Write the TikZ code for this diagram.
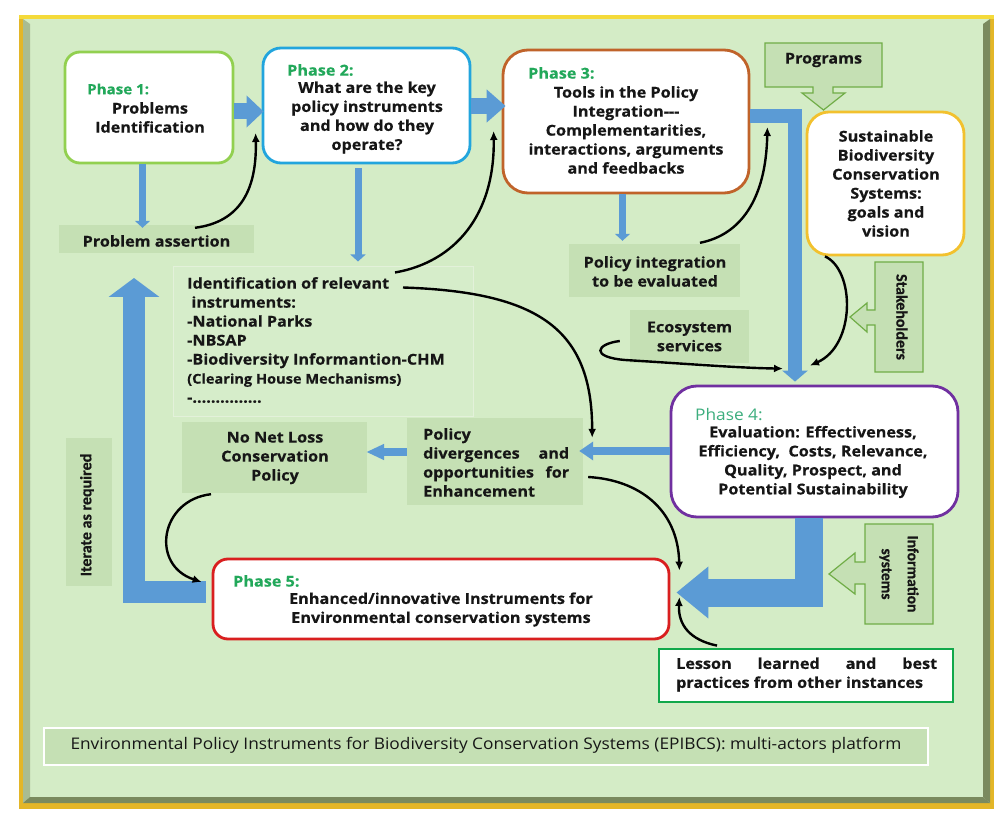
\documentclass[tikz,border=0pt]{standalone}
\usepackage{fontspec}
\setmainfont{Open Sans}[FakeStretch=1.08, BoldFeatures={FakeBold=0.4}]
\newfontfamily\carlfont{Carlito}[BoldFeatures={FakeBold=0.6}]
\usetikzlibrary{arrows.meta,calc}
\definecolor{bggreen}{HTML}{D4ECC6}
\definecolor{boxgreen}{HTML}{C5E0B4}
\definecolor{identfill}{HTML}{D6EDCA}
\definecolor{identedge}{HTML}{E3F1DA}
\definecolor{calgreen}{HTML}{70AD47}
\definecolor{arrowblue}{HTML}{5B9BD5}
\definecolor{labgreen}{HTML}{22A85A}
\definecolor{labgreenlt}{HTML}{3DAE7E}
\definecolor{ph1}{HTML}{92D050}
\definecolor{ph2}{HTML}{22A5DD}
\definecolor{ph3}{HTML}{C0632A}
\definecolor{ph4}{HTML}{7030A0}
\definecolor{ph5}{HTML}{D91F1F}
\definecolor{sbc}{HTML}{F2C12E}
\definecolor{lessongreen}{HTML}{12A84B}
\definecolor{framegold}{HTML}{E3B628}
\definecolor{frametop}{HTML}{F4DA3A}
\definecolor{bevelL}{HTML}{A9BC92}
\definecolor{bevelD}{HTML}{7A8A5E}
\definecolor{txtblack}{HTML}{161616}
\newcommand{\fntB}{\bfseries\fontsize{15}{19}\selectfont}
\newcommand{\fntL}{\bfseries\fontsize{15}{19}\selectfont}
\newcommand{\fntR}{\fontsize{16}{19}\selectfont}
\newcommand{\fntC}{\fontsize{16}{19}\selectfont}
\newcommand{\fntS}{\carlfont\bfseries\fontsize{16}{19}\selectfont}
\tikzset{
  phasebox/.style={draw, line width=2.8pt, fill=white, inner sep=0pt},
  greenbox/.style={fill=boxgreen, inner sep=0pt},
  identbox/.style={fill=identfill, draw=identedge, line width=1pt, inner sep=0pt},
  txt/.style={inner sep=0pt, font=\fntB, text=txtblack, align=center},
  rottxt/.style={inner sep=0pt, font=\fntS, text=txtblack, align=center},
  lab/.style={inner sep=0pt, anchor=west, font=\fntL, text=labgreen},
  callout/.style={fill=boxgreen, draw=calgreen, line width=1.2pt, line join=miter},
  thinblue/.style={draw=arrowblue, line width=7pt, -{Triangle[length=7pt,width=15pt]}},
  midblue/.style={draw=arrowblue, line width=8pt, -{Triangle[length=14pt,width=18pt]}},
  blockblue/.style={draw=arrowblue, line width=16pt, -{Triangle[length=17pt,width=31pt]}},
  curvearrow/.style={draw=black, line width=2.4pt, -{Latex[length=9pt,width=8pt]}}
}
\begin{document}
\begin{tikzpicture}[x=1pt,y=-1pt]
\useasboundingbox (0,0) rectangle (1005,821);
\fill[white] (0,0) rectangle (1005,821);
% frame
\fill[framegold] (19,15) rectangle (994,809);
\fill[frametop] (19,15) rectangle (994,19);
\fill[bggreen] (23,19) rectangle (990,803);
\fill[bevelL] (23,19) -- (30,24) -- (30,797) -- (23,803) -- cycle;
\fill[bevelD] (990,19) -- (983,24) -- (983,797) -- (990,803) -- cycle;
\fill[bevelD] (23,803) -- (30,797) -- (983,797) -- (990,803) -- cycle;

% boxes
\node[phasebox, draw=ph1, rounded corners=15pt, minimum width=168, minimum height=111] (p1) at (149,107.5) {};
\node[phasebox, draw=ph2, rounded corners=18pt, minimum width=207, minimum height=115] (p2) at (366.5,105.5) {};
\node[phasebox, draw=ph3, rounded corners=25pt, minimum width=246, minimum height=143] (p3) at (626,121.5) {};
\node[phasebox, draw=sbc, rounded corners=22pt, minimum width=157, minimum height=143] (sbc) at (885.5,183.5) {};
\node[phasebox, draw=ph4, rounded corners=26pt, minimum width=287, minimum height=131] (p4) at (814.5,451.5) {};
\node[phasebox, draw=ph5, rounded corners=15pt, minimum width=456, minimum height=80] (p5) at (441,599) {};
\node[phasebox, draw=lessongreen, minimum width=294, minimum height=53] (lesson) at (806,675.5) {};
\node[greenbox, minimum width=195, minimum height=28] (assert) at (156.5,239) {};
\node[identbox, minimum width=300, minimum height=149] (ident) at (323,341.5) {};
\node[greenbox, minimum width=185, minimum height=71] (nnl) at (274.5,457.5) {};
\node[greenbox, minimum width=176, minimum height=87] (div) at (495,461.5) {};
\node[greenbox, minimum width=171, minimum height=53] (polint) at (654.5,270.5) {};
\node[greenbox, minimum width=119, minimum height=53] (eco) at (689.5,336.5) {};
\node[greenbox, minimum width=46, minimum height=148] (iter) at (89,512) {};
\node[greenbox, draw=white, line width=1.5pt, minimum width=884, minimum height=37] (caption) at (486,746.5) {};

% callout shapes
\draw[callout] (765,43) -- (882,43) -- (882,87) -- (833,87) -- (833,93) -- (845,93) -- (823.5,110) -- (802,93) -- (813,93) -- (813,87) -- (765,87) -- cycle;
\draw[callout] (875,262) -- (923,262) -- (923,372) -- (875,372) -- (875,325) -- (867,325) -- (867,332) -- (850,317) -- (867,303) -- (867,310) -- (875,310) -- cycle;
\draw[callout] (865,524) -- (933,524) -- (933,624) -- (865,624) -- (865,584) -- (855,584) -- (855,594) -- (829,574) -- (855,553) -- (855,562) -- (865,562) -- cycle;

% texts
\node[lab, font=\bfseries\fontsize{14}{19}\selectfont] (l1) at (87,89) {Phase 1:};
\node[txt] (t1) at (150,117.5) {Problems\\Identification};
\node[lab] (l2) at (287,70) {Phase 2:};
\node[txt] (t2) at (367,117.5) {What are the key\\policy instruments\\and how do they\\operate?};
\node[lab] (l3) at (528,73) {Phase 3:};
\node[txt] (t3) at (626,130) {Tools in the Policy\\Integration-{}-{}-\\Complementarities,\\interactions, arguments\\and feedbacks};
\node[txt] (tsbc) at (886,183.5) {Sustainable\\Biodiversity\\Conservation\\Systems:\\goals and\\vision};
\node[txt] (tprog) at (823.5,60) {Programs};
\node[inner sep=0pt, anchor=west, font=\fntR, text=labgreenlt] (l4) at (695,415) {Phase 4:};
\node[txt] (t4) at (813,462) {Evaluation: Effectiveness,\\Efficiency,~ Costs, Relevance,\\Quality, Prospect, and\\Potential Sustainability};
\node[lab] (l5) at (233,581) {Phase 5:};
\node[txt] (t5) at (441,609.5) {Enhanced/innovative Instruments for\\Environmental conservation systems};
\node[txt, anchor=west, align=left] (tles) at (676,674.5) {\makebox[261pt][s]{Lesson learned and best}\\practices from other instances};
\node[txt] (tass) at (156.5,241) {Problem assertion};
\node[txt, anchor=west, align=left] (tident) at (187,340) {Identification of relevant\\ \ instruments:\\-National Parks\\-NBSAP\\-Biodiversity Informantion-CHM\\{\bfseries\fontsize{13.5}{19}\selectfont (Clearing House Mechanisms)}\\-...............};
\node[txt] (tnnl) at (275,458) {No Net Loss\\Conservation\\Policy};
\node[txt, anchor=west, align=left] (tdiv) at (423,462.5) {Policy\\\makebox[146pt][s]{divergences and}\\\makebox[146pt][s]{opportunities for}\\Enhancement};
\node[txt] (tpol) at (655,271.5) {Policy integration\\to be evaluated};
\node[txt] (teco) at (689.5,336.5) {Ecosystem\\services};
\node[rottxt, rotate=90] (titer) at (87,515) {Iterate as required};
\node[rottxt, rotate=-90] (tstake) at (902,317) {Stakeholders};
\node[rottxt, font=\carlfont\bfseries\fontsize{15.5}{26}\selectfont, rotate=-90] (tinfo) at (899,574) {Information\\systems};
\node[inner sep=0pt, font=\fntC, text=txtblack] (tcap) at (486,745) {Environmental Policy Instruments for Biodiversity Conservation Systems (EPIBCS): multi-actors platform};

% straight blue arrows
\draw[blockblue] ([yshift=-4pt]p1.east) -- ([xshift=2pt,yshift=-6pt]p2.west);
\draw[draw=arrowblue, line width=16pt, -{Triangle[length=19pt,width=32pt]}] ([yshift=-0.5pt]p2.east) -- ([xshift=4pt,yshift=15.5pt]p3.west);
\draw[thinblue] ([xshift=-6.5pt]p1.south) -- ([xshift=-14pt,yshift=-3pt]assert.north);
\draw[thinblue] ([xshift=-8.5pt,yshift=-4pt]p2.south) -- ([xshift=35pt,yshift=5pt]ident.north);
\draw[thinblue] ([xshift=-3.5pt]p3.south) -- ([xshift=-32pt,yshift=3pt]polint.north);
\draw[midblue] ([yshift=0.5pt]p4.west) -- ([xshift=-4pt,yshift=10.5pt]div.east);
\draw[draw=arrowblue, line width=8pt, -{Triangle[length=18pt,width=15pt]}] ([yshift=9.5pt]div.west) -- ([xshift=-1pt,yshift=5.5pt]nnl.east);

% big L arrows
\draw[draw=arrowblue, line width=14pt, line join=miter, -{Triangle[length=11pt,width=25pt]}] ([yshift=5.5pt]p3.east) -| ([xshift=-19.5pt,yshift=3pt]p4.north);
\draw[draw=arrowblue, line width=28pt, line join=miter, -{Triangle[length=32pt,width=50pt]}] ([xshift=-5.5pt]p4.south) |- ([xshift=6pt,yshift=6.5pt]p5.east);
\coordinate (itertip) at (134,278);
\draw[draw=arrowblue, line width=22pt, line join=miter, -{Triangle[length=19pt,width=50pt]}] ([xshift=-6pt,yshift=7pt]p5.west) -| (itertip);

% black curved arrows
\draw[curvearrow] ([xshift=38.5pt,yshift=-3pt]assert.north) .. controls (240,222) and (257,190) .. ([xshift=-6pt,yshift=-27.5pt]p2.west);
\draw[curvearrow] ([xshift=72pt,yshift=-6pt]ident.north) .. controls (455,262) and (495,215) .. ([xshift=-8pt,yshift=-9.5pt]p3.west);
\draw[curvearrow] ([xshift=80pt,yshift=-21pt]ident.north) .. controls (540,292) and (592,330) .. ([xshift=9pt,yshift=-20pt]div.north east);
\draw[curvearrow] ([xshift=45.5pt,yshift=1pt]polint.north) .. controls (740,235) and (766,200) .. ([xshift=17pt,yshift=-5.5pt]p3.east);
\draw[curvearrow] ([xshift=-60.5pt]sbc.south) .. controls (855,270) and (856,345) .. ([xshift=-4.5pt,yshift=19pt]p4.north);
\draw[curvearrow] ([xshift=-10pt,yshift=-4.5pt]eco.west) .. controls (596,344) and (590,357) .. (625,360) .. controls (690,364) and (740,368) .. ([xshift=-31.5pt,yshift=16pt]p4.north);
\draw[curvearrow] ([xshift=5pt,yshift=-15.5pt]div.east) .. controls (640,480) and (678,510) .. ([xshift=9pt,yshift=-13pt]p5.north east);
\draw[curvearrow] ([xshift=-63.5pt,yshift=-1pt]nnl.south) .. controls (160,500) and (150,565) .. ([xshift=-10pt,yshift=17pt]p5.west);
\draw[curvearrow] ([xshift=-89pt,yshift=2pt]lesson.north) .. controls (690,640) and (678,625) .. ([xshift=9pt,yshift=2pt]p5.east);
\end{tikzpicture}
\end{document}
